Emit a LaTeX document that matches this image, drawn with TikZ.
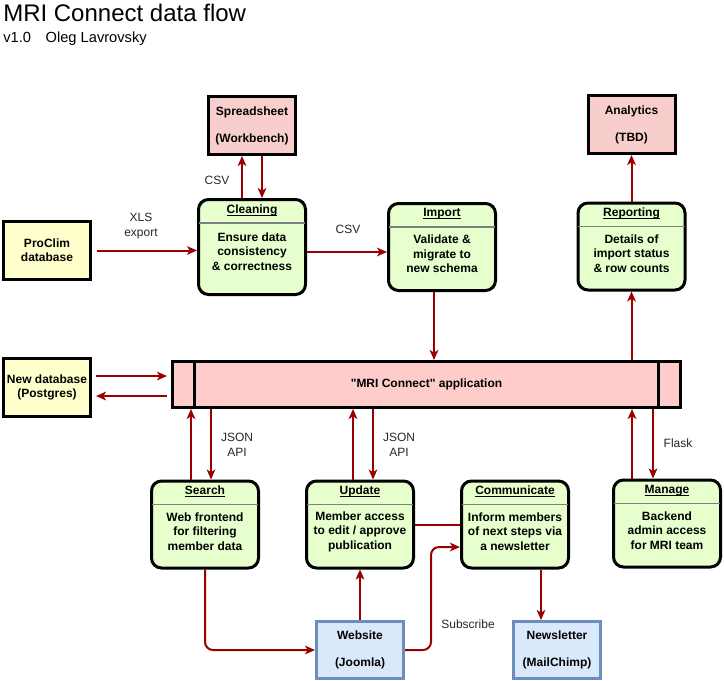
\documentclass[tikz,border=0pt]{standalone}
\usepackage{fontspec}
\setmainfont{Liberation Sans}
\newfontfamily\plainfont{Liberation Sans}
\usetikzlibrary{arrows.meta}
\usetikzlibrary{calc}
\usepackage{xcolor}
\definecolor{flowred}{HTML}{990000}
\definecolor{procgreen}{HTML}{E6FFCC}
\definecolor{dbyellow}{HTML}{FFFFCC}
\definecolor{extpink}{HTML}{F8CECC}
\definecolor{apppink}{HTML}{FFCCCC}
\definecolor{webblue}{HTML}{DAE8FC}
\definecolor{webedge}{HTML}{6C8EBF}
\newcommand{\hd}[1]{\underline{\raisebox{0pt}[\height][0pt]{#1}}}

\begin{document}
\begin{tikzpicture}[x=0.75pt,y=-0.75pt,
    box/.style={draw=black,line width=2.25pt,align=center,inner sep=1pt,
      font=\bfseries\fontsize{9}{10.8}\selectfont},
    proc/.style={box,rounded corners=7.5pt,fill=procgreen,minimum width=80.25pt,minimum height=65.25pt},
    store/.style={box,fill=dbyellow,minimum width=65.25pt,minimum height=43.5pt},
    ext/.style={box,fill=extpink,minimum width=65.25pt,minimum height=43.5pt},
    web/.style={box,draw=webedge,fill=webblue,minimum width=65.25pt,minimum height=42.75pt},
    app/.style={box,fill=apppink,minimum width=381pt,minimum height=34.5pt},
    head/.style={font=\bfseries\fontsize{9}{10.8}\selectfont,inner sep=0pt},
    body/.style={font=\bfseries\fontsize{9}{10.8}\selectfont,align=center,inner sep=0pt},
    sep/.style={draw=black!50,line width=1pt,shorten <=1.2pt,shorten >=1.2pt},
    lbl/.style={font=\fontsize{9}{11}\selectfont,text=black!85,align=center,inner sep=1pt},
    flow/.style={draw=flowred,line width=1.5pt,-{Stealth[length=7.5pt,width=6.5pt,inset=2pt]}},
    link/.style={draw=flowred,line width=1.5pt}]

  \useasboundingbox (0,0) rectangle (724,681);

  \node[anchor=base west,inner sep=0pt,font=\fontsize{18}{20}\selectfont](title) at (3,22) {MRI Connect data flow};
  \node[anchor=base west,inner sep=0pt,font=\fontsize{11}{12}\selectfont](author) at (3,43) {v1.0\hspace{11pt}Oleg Lavrovsky};

  % sources and sinks
  \node[store](proclim) at (47,250.5) {ProClim\\database};
  \node[store](newdb) at (47,387.5) {New database\\(Postgres)};
  \node[ext](sheet) at (252,125.5) {Spreadsheet\\[9.5pt](Workbench)};
  \node[ext](analytics) at (631.5,124.5) {Analytics\\[9.5pt](TBD)};
  \node[web](website) at (360,650) {Website\\[9.5pt](Joomla)};
  \node[web](newsletter) at (557,650) {Newsletter\\[9.5pt](MailChimp)};

  % the application
  \node[app](app) at (426.5,384.5) {\plainfont\bfseries "MRI Connect" application};
  \draw[line width=2.25pt] ($(app.north west)+(23,0)$) -- ($(app.south west)+(23,0)$);
  \draw[line width=2.25pt] ($(app.north east)+(-24,0)$) -- ($(app.south east)+(-24,0)$);

  % processes
  \node[proc,minimum height=71.25pt](clean) at (252,247) {};
  \node[head](cleanhead) at ($(clean.north)+(0,12)$) {\hd{Cleaning}};
  \node[body](cleanbody) at ($(clean)+(0,4.5)$) {Ensure data\\consistency\\\& correctness};
  \draw[sep] ($(clean.north west)+(0,25)$) -- ($(clean.north east)+(0,25)$);

  \node[proc](import) at (442,247) {};
  \node[head](importhead) at ($(import.north)+(0,12)$) {\hd{Import}};
  \node[body](importbody) at ($(import)+(0,7)$) {Validate \&\\migrate to\\new schema};
  \draw[sep] ($(import.north west)+(0,25)$) -- ($(import.north east)+(0,25)$);

  \node[proc](report) at (631.5,246.5) {};
  \node[head](reporthead) at ($(report.north)+(0,12)$) {\hd{Reporting}};
  \node[body](reportbody) at ($(report)+(0,7)$) {Details of\\import status\\\& row counts};
  \draw[sep] ($(report.north west)+(0,25)$) -- ($(report.north east)+(0,25)$);

  \node[proc](search) at (205,524.5) {};
  \node[head](searchhead) at ($(search.north)+(0,12)$) {\hd{Search}};
  \node[body](searchbody) at ($(search)+(0,7)$) {Web frontend\\for filtering\\member data};
  \draw[sep] ($(search.north west)+(0,25)$) -- ($(search.north east)+(0,25)$);

  \node[proc](update) at (360,524.5) {};
  \node[head](updatehead) at ($(update.north)+(0,12)$) {\hd{Update}};
  \node[body](updatebody) at ($(update)+(0,7)$) {Member access\\to edit / approve\\publication};
  \draw[sep] ($(update.north west)+(0,25)$) -- ($(update.north east)+(0,25)$);

  \node[proc](comm) at (515,524.5) {};
  \node[head](commhead) at ($(comm.north)+(0,12)$) {\hd{Communicate}};
  \node[body](commbody) at ($(comm)+(0,7)$) {Inform members\\of next steps via\\a newsletter};
  \draw[sep] ($(comm.north west)+(0,25)$) -- ($(comm.north east)+(0,25)$);

  \node[proc](manage) at (667,523.5) {};
  \node[head](managehead) at ($(manage.north)+(0,12)$) {\hd{Manage}};
  \node[body](managebody) at ($(manage)+(0,7)$) {Backend\\admin access\\for MRI team};
  \draw[sep] ($(manage.north west)+(0,25)$) -- ($(manage.north east)+(0,25)$);

  % flows at the top
  \draw[flow,shorten <=3.75pt] (proclim.east) -- (proclim.east -| clean.west);
  \node[lbl](xls) at (141,226) {XLS\\export};
  \draw[flow] ([xshift=-7.5pt]clean.north) -- ([xshift=-7.5pt]clean.north |- sheet.south);
  \draw[flow] ([xshift=7.5pt]sheet.south) -- ([xshift=7.5pt]sheet.south |- clean.north);
  \node[lbl](csvsheet) at (217,180) {CSV};
  \draw[flow] ([yshift=-3.75pt]clean.east) -- ([yshift=-3.75pt]clean.east -| import.west);
  \node[lbl](csvimport) at (348,229) {CSV};
  \draw[flow] ([xshift=-6pt]import.south) -- ([xshift=-6pt]import.south |- app.north);
  \draw[flow] (app.north -| report.south) -- (report.south);
  \draw[flow] (report.north) -- (analytics.south);

  % database
  \draw[flow,shorten <=3pt,shorten >=3pt] ([yshift=8.6pt]newdb.east) -- ([yshift=8.6pt]newdb.east -| app.west);
  \draw[flow,shorten <=3pt,shorten >=3pt] ([yshift=-6.4pt]newdb.east -| app.west) -- ([yshift=-6.4pt]newdb.east);

  % flows at the bottom
  \draw[flow] ([xshift=-10.5pt]search.north) -- ([xshift=-10.5pt]search.north |- app.south);
  \draw[flow] ([xshift=4.5pt]search.north |- app.south) -- ([xshift=4.5pt]search.north);
  \node[lbl](jsonsearch) at (237,445) {JSON\\API};
  \draw[flow] ([xshift=-5.25pt]update.north) -- ([xshift=-5.25pt]update.north |- app.south);
  \draw[flow] ([xshift=9.75pt]update.north |- app.south) -- ([xshift=9.75pt]update.north);
  \node[lbl](jsonupdate) at (399,445) {JSON\\API};
  \draw[flow] ([xshift=-26.25pt]manage.north) -- ([xshift=-26.25pt]manage.north |- app.south);
  \draw[flow] ([xshift=-10.5pt]manage.north |- app.south) -- ([xshift=-10.5pt]manage.north);
  \node[lbl](flask) at (678,443) {Flask};

  \draw[flow,rounded corners=6pt] (search.south) |- (website.west);
  \draw[flow] (website.north) -- (update.south);
  \draw[link] (update.east) -- (comm.west);
  \draw[flow,rounded corners=6pt] (website.east) -- ++(26,0) |- ([yshift=-16.9pt]comm.west);
  \node[lbl](subscribe) at (468,624) {Subscribe};
  \draw[flow] ([xshift=19.5pt]comm.south) -- ([xshift=19.5pt]comm.south |- newsletter.north);

\end{tikzpicture}
\end{document}
